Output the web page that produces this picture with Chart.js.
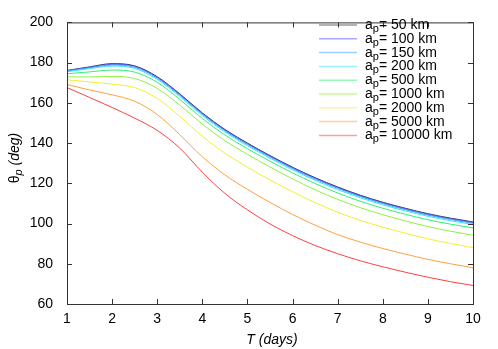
<!DOCTYPE html>
<html>
<head>
<meta charset="utf-8">
<script src="https://cdn.jsdelivr.net/npm/chart.js@4.4.0/dist/chart.umd.min.js"></script>
<style>
  html, body { margin: 0; padding: 0; background: #fff; }
  #wrap { width: 498px; height: 349px; }
</style>
</head>
<body>
<div id="wrap"><canvas id="chart"></canvas></div>
<script>
// T (days)
const tDays = [1, 1.5, 2, 2.5, 3, 3.5, 4, 4.5, 5, 5.5, 6, 6.5, 7, 7.5, 8, 8.5, 9, 9.5, 10];

// theta_p (deg) for each a_p
const ap50    = [176.1, 177.9, 179.5, 178.4, 173.0, 164.5, 155.0, 146.8, 140.0, 133.8, 128.0, 122.8, 118.2, 114.1, 110.6, 107.6, 104.9, 102.7, 100.8];
const ap100   = [176.0, 177.7, 179.2, 178.1, 172.7, 164.2, 154.7, 146.5, 139.7, 133.5, 127.7, 122.5, 117.9, 113.8, 110.3, 107.3, 104.6, 102.4, 100.5];
const ap150   = [175.8, 177.4, 178.8, 177.7, 172.3, 163.8, 154.3, 146.1, 139.3, 133.1, 127.3, 122.1, 117.5, 113.4, 109.9, 106.9, 104.2, 102.0, 100.1];
const ap200   = [175.5, 177.0, 178.3, 177.1, 171.7, 163.2, 153.7, 145.5, 138.7, 132.5, 126.7, 121.5, 116.9, 112.8, 109.3, 106.3, 103.6, 101.4, 99.5];
const ap500   = [174.5, 175.4, 176.3, 175.3, 170.2, 161.7, 152.2, 144.0, 137.2, 131.0, 125.2, 119.9, 115.2, 111.1, 107.6, 104.6, 101.9, 99.7, 97.8];
const ap1000  = [172.9, 172.9, 173.1, 172.1, 167.2, 158.9, 149.4, 141.2, 134.4, 128.1, 122.2, 116.8, 112.0, 107.9, 104.4, 101.3, 98.5, 96.2, 94.2];
const ap2000  = [171.5, 170.4, 169.3, 167.6, 162.2, 153.3, 143.4, 135.0, 128.0, 121.7, 115.8, 110.4, 105.6, 101.6, 98.2, 95.2, 92.4, 90.1, 88.0];
const ap5000  = [169.1, 166.4, 164.0, 160.8, 154.2, 144.2, 133.2, 124.2, 117.0, 110.5, 104.5, 99.2, 94.5, 90.8, 87.6, 84.8, 82.2, 80.0, 78.0];
const ap10000 = [167.6, 162.7, 157.7, 152.4, 146.3, 137.5, 125.5, 115.0, 106.8, 99.8, 94.0, 89.1, 85.0, 81.5, 78.5, 75.8, 73.3, 71.1, 69.2];

const apLabels = ['50 km', '100 km', '150 km', '200 km', '500 km', '1000 km', '2000 km', '5000 km', '10000 km'];
const apColors = ['#3a3a3a', '#5050ff', '#40a0ff', '#30e8ff', '#30f070', '#90f040', '#f0f030', '#ffa040', '#ff4040'];
const apSeries = [ap50, ap100, ap150, ap200, ap500, ap1000, ap2000, ap5000, ap10000];

const FONT = '"Liberation Sans", Arial, sans-serif';

const datasets = apSeries.map((vals, i) => ({
    label: apLabels[i],
    data: vals.map((v, k) => ({ x: tDays[k], y: v })),
    borderColor: apColors[i],
    borderWidth: 1,
    pointRadius: 0,
    fill: false,
    cubicInterpolationMode: 'monotone'
})).reverse();

// frame with inward ticks, like gnuplot
const framePlugin = {
    id: 'frame',
    afterDatasetsDraw(chart) {
        const { ctx, chartArea: a, scales } = chart;
        ctx.save();
        ctx.strokeStyle = '#333';
        ctx.lineWidth = 1;
        ctx.strokeRect(a.left + 0.5, a.top + 0.5, a.right - a.left, a.bottom - a.top);
        ctx.beginPath();
        scales.x.ticks.forEach(t => {
            const px = Math.round(scales.x.getPixelForValue(t.value)) + 0.5;
            ctx.moveTo(px, a.bottom); ctx.lineTo(px, a.bottom - 5);
            ctx.moveTo(px, a.top); ctx.lineTo(px, a.top + 5);
        });
        scales.y.ticks.forEach(t => {
            const py = Math.round(scales.y.getPixelForValue(t.value)) + 0.5;
            ctx.moveTo(a.left, py); ctx.lineTo(a.left + 5, py);
            ctx.moveTo(a.right, py); ctx.lineTo(a.right - 5, py);
        });
        ctx.stroke();
        ctx.restore();
    }
};

// legend and axis titles (need subscripts)
const textPlugin = {
    id: 'texts',
    afterDraw(chart) {
        const ctx = chart.ctx;
        ctx.save();
        ctx.fillStyle = '#000';
        ctx.textBaseline = 'alphabetic';

        // legend
        apLabels.forEach((lab, i) => {
            const y = 25 + i * 13.8;
            ctx.strokeStyle = apColors[i];
            ctx.globalAlpha = 0.5;
            ctx.lineWidth = 1.5;
            ctx.beginPath();
            ctx.moveTo(319, y); ctx.lineTo(357, y);
            ctx.stroke();
            ctx.globalAlpha = 1;
            let x = 365;
            ctx.font = '14px ' + FONT;
            ctx.fillText('a', x, y + 4);
            x += ctx.measureText('a').width;
            ctx.font = '11px ' + FONT;
            ctx.fillText('p', x, y + 7);
            x += ctx.measureText('p').width;
            ctx.font = '14px ' + FONT;
            ctx.fillText('= ' + lab, x, y + 4);
        });

        // x title
        ctx.font = 'italic 14px ' + FONT;
        ctx.textAlign = 'center';
        ctx.fillText('T (days)', 272, 344);

        // y title
        ctx.translate(19, 158);
        ctx.rotate(-Math.PI / 2);
        ctx.textAlign = 'left';
        const parts = [
            { s: '\u03b8', f: '14px ' + FONT, dy: 0 },
            { s: 'p', f: 'italic 11px ' + FONT, dy: 3 },
            { s: ' (deg)', f: 'italic 14px ' + FONT, dy: 0 }
        ];
        let w = 0;
        parts.forEach(p => { ctx.font = p.f; w += ctx.measureText(p.s).width; });
        let x = -w / 2;
        parts.forEach(p => {
            ctx.font = p.f;
            ctx.fillText(p.s, x, p.dy);
            x += ctx.measureText(p.s).width;
        });
        ctx.restore();
    }
};

new Chart(document.getElementById('chart'), {
    type: 'line',
    data: { datasets },
    options: {
        responsive: true,
        maintainAspectRatio: false,
        animation: false,
        devicePixelRatio: 1,
        layout: { padding: { left: 17, right: 25, top: 6, bottom: 0 } },
        plugins: { legend: { display: false }, tooltip: { enabled: false } },
        scales: {
            x: {
                type: 'linear',
                min: 1, max: 10,
                grid: { display: false, tickLength: 0 },
                border: { display: false },
                ticks: { stepSize: 1, color: '#000', font: { size: 14, family: FONT }, padding: 7, maxRotation: 0 },
                afterFit(scale) { scale.height = 45; }
            },
            y: {
                min: 60, max: 200,
                grid: { display: false, tickLength: 0 },
                border: { display: false },
                ticks: { stepSize: 20, color: '#000', font: { size: 14, family: FONT }, padding: 14 },
                afterFit(scale) { scale.width = 50; }
            }
        }
    },
    plugins: [framePlugin, textPlugin]
});
</script>
</body>
</html>
